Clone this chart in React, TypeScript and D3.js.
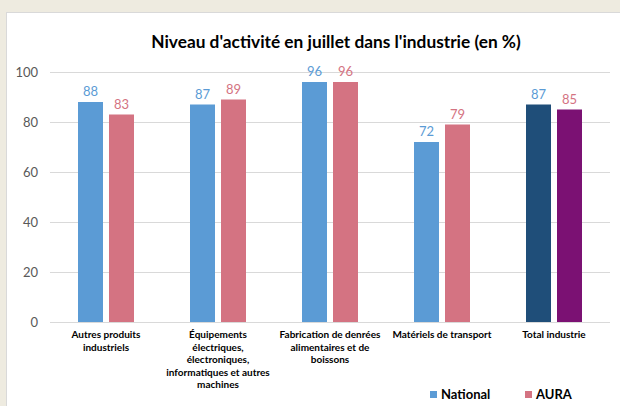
import React from "react";
import * as d3 from "d3";

const categories = [
  ["Autres produits", "industriels"],
  ["Équipements", "électriques,", "électroniques,", "informatiques et autres", "machines"],
  ["Fabrication de denrées", "alimentaires et de", "boissons"],
  ["Matériels de transport"],
  ["Total industrie"],
];
const nationalValues = [88, 87, 96, 72, 87];
const auraValues = [83, 89, 96, 79, 85];
const yTicks = [0, 20, 40, 60, 80, 100];
const seriesNames = ["National", "AURA"];

const W = 620, H = 406;
const left = 50, right = 610, top = 72, bottom = 322;
const FONT = "Lato, 'Open Sans', sans-serif";

export default function App() {
  const x = d3.scaleBand<number>().domain(d3.range(categories.length)).range([left, right]);
  const y = d3.scaleLinear().domain([0, 100]).range([bottom, top]);
  const barW = 25, gap = 6;
  const natColor = (i: number) => (i === 4 ? "#1F4E79" : "#5B9BD5");
  const auraColor = (i: number) => (i === 4 ? "#7B1173" : "#D47382");
  return (
    <svg width={W} height={H} style={{ position: "absolute", left: 0, top: 0 }}>
      <rect x={0} y={0} width={W} height={H} fill="#EEEBE0" />
      <rect x={6.5} y={12.5} width={W} height={H} fill="#FFFFFF" stroke="#D9D9D9" />
      <text x={336} y={48} textAnchor="middle" fontFamily={FONT} fontWeight="bold" fontSize={17.3} fill="#000">
        Niveau d'activité en juillet dans l'industrie (en %)
      </text>
      {yTicks.map((t) => (
        <g key={t}>
          <line x1={left} x2={right} y1={y(t) + 0.5} y2={y(t) + 0.5} stroke="#D9D9D9" strokeWidth={1} />
          <text x={38} y={y(t) + 4.5} textAnchor="end" fontFamily={FONT} fontSize={13} fill="#595959">{t}</text>
        </g>
      ))}
      {categories.map((c, i) => {
        const cx = (x(i) as number) + x.bandwidth() / 2;
        const xn = cx - gap / 2 - barW;
        const xa = cx + gap / 2;
        return (
          <g key={i}>
            <rect x={xn} y={y(nationalValues[i])} width={barW} height={bottom - y(nationalValues[i])} fill={natColor(i)} />
            <rect x={xa} y={y(auraValues[i])} width={barW} height={bottom - y(auraValues[i])} fill={auraColor(i)} />
            <text x={xn + barW / 2} y={y(nationalValues[i]) - 6} textAnchor="middle" fontFamily={FONT} fontSize={13} fill="#5B9BD5">{nationalValues[i]}</text>
            <text x={xa + barW / 2} y={y(auraValues[i]) - 6} textAnchor="middle" fontFamily={FONT} fontSize={13} fill="#D47382">{auraValues[i]}</text>
            {c.map((line, k) => (
              <text key={k} x={cx} y={338 + k * 12.5} textAnchor="middle" fontFamily={FONT} fontWeight="bold" fontSize={10} fill="#000">{line}</text>
            ))}
          </g>
        );
      })}
      <line x1={left} x2={right} y1={bottom + 0.5} y2={bottom + 0.5} stroke="#D9D9D9" />
      <rect x={430} y={391} width={7} height={7} fill="#5B9BD5" />
      <text x={441} y={399} fontFamily={FONT} fontWeight="bold" fontSize={13} fill="#000">{seriesNames[0]}</text>
      <rect x={525} y={391} width={7} height={7} fill="#D47382" />
      <text x={536} y={399} fontFamily={FONT} fontWeight="bold" fontSize={13} fill="#000">{seriesNames[1]}</text>
    </svg>
  );
}
